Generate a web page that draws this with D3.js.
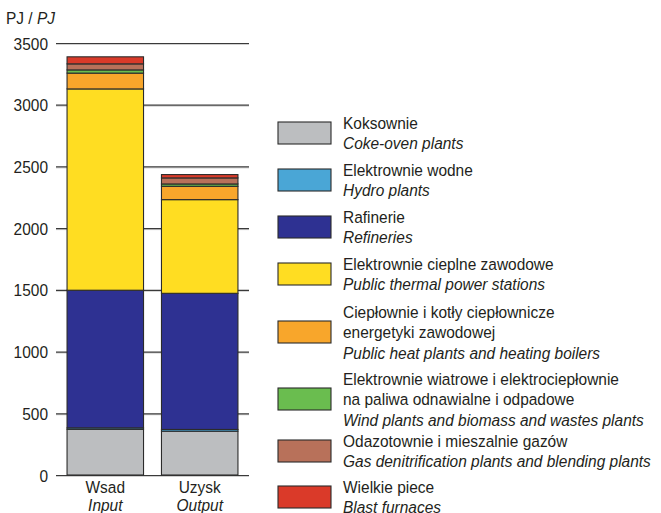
<!DOCTYPE html>
<html>
<head>
<meta charset="utf-8">
<script src="https://cdn.jsdelivr.net/npm/d3@7"></script>
<style>
  body { margin: 0; background: #fff; }
  text { font-family: "Liberation Sans", Arial, sans-serif; fill: #231f20; font-size: 17px; }
</style>
</head>
<body>
<div id="chart"></div>
<script>
// Categories (x axis) - Polish / English
const categories = ["Wsad", "Uzysk"];
const categoriesEn = ["Input", "Output"];

// Series names, bottom to top of each stack
const seriesPl = [
    ["Koksownie"],
    ["Elektrownie wodne"],
    ["Rafinerie"],
    ["Elektrownie cieplne zawodowe"],
    ["Ciepłownie i kotły ciepłownicze", "energetyki zawodowej"],
    ["Elektrownie wiatrowe i elektrociepłownie", "na paliwa odnawialne i odpadowe"],
    ["Odazotownie i mieszalnie gazów"],
    ["Wielkie piece"]
];
const seriesEn = [
    "Coke-oven plants",
    "Hydro plants",
    "Refineries",
    "Public thermal power stations",
    "Public heat plants and heating boilers",
    "Wind plants and biomass and wastes plants",
    "Gas denitrification plants and blending plants",
    "Blast furnaces"
];
const colors = ["#bcbec0", "#4aa6d6", "#2e3192", "#ffdd22", "#f8a62b", "#6abd4f", "#b8715a", "#da3a29"];

// Values in PJ, same order as series, for Wsad and Uzysk
const wsadValues  = [370, 12, 1115, 1631, 128, 26, 49, 57];
const uzyskValues = [355, 14, 1103, 759, 108, 19, 49, 27];

// Y axis ticks
const yTicks = [0, 500, 1000, 1500, 2000, 2500, 3000, 3500];

const W = 661, H = 513;
const SX = 0.91; // narrow the font a bit, the original uses a condensed face
const svg = d3.select("#chart").append("svg")
    .attr("width", W)
    .attr("height", H);

// helper: place a text at x,y with horizontal squeeze
const place = (xx, yy) => `translate(${xx},${yy}) scale(${SX},1)`;

const x = d3.scaleBand()
    .domain(categories)
    .range([56, 249])
    .paddingInner(0.19)
    .paddingOuter(0.117);

const y = d3.scaleLinear()
    .domain([0, 3500])
    .range([475, 43]);

// Unit label
const unit = svg.append("text")
    .attr("transform", place(6, 24));
unit.append("tspan").text("PJ / ");
unit.append("tspan").style("font-style", "italic").text("PJ");

// Grid lines with light shadow
const grid = svg.append("g");
grid.selectAll("line.shadow")
    .data(yTicks)
    .enter().append("line")
    .attr("class", "shadow")
    .attr("x1", 56).attr("x2", 249)
    .attr("y1", d => y(d) + 1.5).attr("y2", d => y(d) + 1.5)
    .style("stroke", "#d0d0d0")
    .style("stroke-width", 1);
grid.selectAll("line.main")
    .data(yTicks)
    .enter().append("line")
    .attr("class", "main")
    .attr("x1", 56).attr("x2", 249)
    .attr("y1", d => y(d) + 0.5).attr("y2", d => y(d) + 0.5)
    .style("stroke", "#3a3a3a")
    .style("stroke-width", 1.2);

// Tick labels
svg.append("g").selectAll("text")
    .data(yTicks)
    .enter().append("text")
    .attr("transform", d => place(48, y(d) + 6.5))
    .attr("text-anchor", "end")
    .text(d => d);

// Stacked bars
const rows = categories.map((c, i) => {
    const vals = i === 0 ? wsadValues : uzyskValues;
    const r = { cat: c };
    vals.forEach((v, k) => r["s" + k] = v);
    return r;
});
const keys = seriesEn.map((d, k) => "s" + k);
const stacked = d3.stack().keys(keys)(rows);

const layers = svg.append("g").selectAll("g")
    .data(stacked)
    .enter().append("g")
    .attr("fill", (d, i) => colors[i]);

layers.selectAll("rect")
    .data(d => d)
    .enter().append("rect")
    .attr("x", d => x(d.data.cat))
    .attr("y", d => y(d[1]))
    .attr("width", x.bandwidth())
    .attr("height", d => y(d[0]) - y(d[1]))
    .style("stroke", "#2b2b2b")
    .style("stroke-width", 1.1);

// Category labels
categories.forEach((c, i) => {
    const cx = x(c) + x.bandwidth() / 2;
    svg.append("text")
        .attr("transform", place(cx, 493))
        .attr("text-anchor", "middle")
        .text(c);
    svg.append("text")
        .attr("transform", place(cx, 511))
        .attr("text-anchor", "middle")
        .style("font-style", "italic")
        .text(categoriesEn[i]);
});

// Legend
const legendY = [133, 180, 227, 274, 332, 399, 451, 497];
const legend = svg.append("g").selectAll("g")
    .data(seriesEn)
    .enter().append("g")
    .attr("transform", (d, i) => `translate(278,${legendY[i]})`);

legend.append("rect")
    .attr("x", 0)
    .attr("y", -11)
    .attr("width", 53)
    .attr("height", 22)
    .attr("fill", (d, i) => colors[i])
    .style("stroke", "#2b2b2b")
    .style("stroke-width", 1.1);

legend.each(function(d, i) {
    const g = d3.select(this);
    const lines = seriesPl[i].map(t => ({ t, it: false })).concat([{ t: d, it: true }]);
    const lh = 20.5;
    const startY = -((lines.length - 1) * lh) / 2 + 6;
    lines.forEach((ln, j) => {
        g.append("text")
            .attr("transform", place(65, startY + j * lh))
            .style("font-style", ln.it ? "italic" : "normal")
            .text(ln.t);
    });
});
</script>
</body>
</html>
